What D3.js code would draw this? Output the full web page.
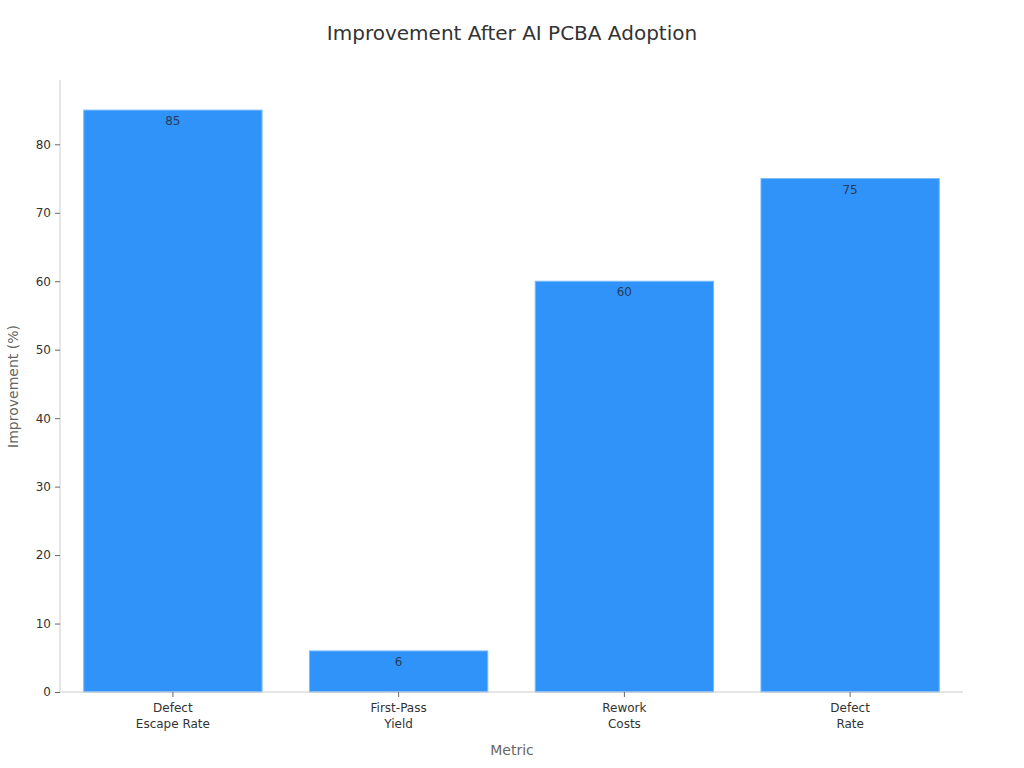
<!DOCTYPE html>
<html>
<head>
<meta charset="utf-8">
<script src="https://cdn.jsdelivr.net/npm/d3@7"></script>
<style>
  body { margin: 0; background: #fff; }
  text { font-family: "DejaVu Sans", sans-serif; }
</style>
</head>
<body>
<div id="chart"></div>
<script>
// chart data
const metrics = [["Defect", "Escape Rate"], ["First-Pass", "Yield"], ["Rework", "Costs"], ["Defect", "Rate"]];
const improvements = [85, 6, 60, 75];
const yTicks = [0, 10, 20, 30, 40, 50, 60, 70, 80];

const width = 1024, height = 768;
const margin = { top: 81, right: 61, bottom: 76, left: 60 };

const svg = d3.select("#chart").append("svg")
	.attr("width", width)
	.attr("height", height);

const x = d3.scaleBand()
	.domain(d3.range(metrics.length))
	.range([margin.left, width - margin.right])
	.paddingInner(0.21)
	.paddingOuter(0.105);

const y = d3.scaleLinear()
	.domain([0, 85 * 1.05])
	.range([height - margin.bottom, margin.top]);

// bars
svg.selectAll("rect.bar")
	.data(improvements)
	.join("rect")
	.attr("class", "bar")
	.attr("x", (d, i) => x(i))
	.attr("y", d => y(d))
	.attr("width", x.bandwidth())
	.attr("height", d => y(0) - y(d))
	.style("fill", "#2f93f9")
	.style("stroke", "#7dbcf9")
	.style("stroke-width", 1);

// value labels
svg.selectAll("text.value")
	.data(improvements)
	.join("text")
	.attr("class", "value")
	.attr("x", (d, i) => x(i) + x.bandwidth() / 2)
	.attr("y", d => y(d) + 15)
	.attr("text-anchor", "middle")
	.style("font-size", "12px")
	.style("fill", "#2a3b55")
	.text(d => d);

// y axis
const yAxis = svg.append("g")
	.attr("transform", `translate(${margin.left}, 0)`)
	.call(d3.axisLeft(y).tickValues(yTicks).tickSize(5).tickPadding(4));
yAxis.select(".domain").attr("stroke", "#ccc").attr("d", `M0,${y(0)}V${margin.top - 1}`);
yAxis.selectAll(".tick line").attr("stroke", "#666");
yAxis.selectAll(".tick text").style("font-size", "12px").style("fill", "#333").style("font-family", "DejaVu Sans");

// x axis
const xAxis = svg.append("g")
	.attr("transform", `translate(0, ${y(0)})`)
	.call(d3.axisBottom(x).tickSize(5).tickFormat(""));
xAxis.select(".domain").attr("stroke", "#ccc").attr("d", `M${margin.left},0H${width - margin.right}`);
xAxis.selectAll(".tick line").attr("stroke", "#666");
xAxis.selectAll(".tick").each(function (d) {
	const t = d3.select(this).append("text")
		.attr("text-anchor", "middle")
		.style("font-size", "12px")
		.style("fill", "#333")
		.style("font-family", "DejaVu Sans");
	metrics[d].forEach((line, k) => {
		t.append("tspan").attr("x", 0).attr("y", 20 + k * 16).text(line);
	});
});

// titles
svg.append("text")
	.attr("x", width / 2)
	.attr("y", 40)
	.attr("text-anchor", "middle")
	.style("font-size", "20px")
	.style("fill", "#333")
	.text("Improvement After AI PCBA Adoption");

svg.append("text")
	.attr("x", width / 2)
	.attr("y", 755)
	.attr("text-anchor", "middle")
	.style("font-size", "14px")
	.style("fill", "#666")
	.text("Metric");

svg.append("text")
	.attr("transform", `translate(18, ${(margin.top + y(0)) / 2}) rotate(-90)`)
	.attr("text-anchor", "middle")
	.style("font-size", "14px")
	.style("fill", "#666")
	.text("Improvement (%)");
</script>
</body>
</html>
